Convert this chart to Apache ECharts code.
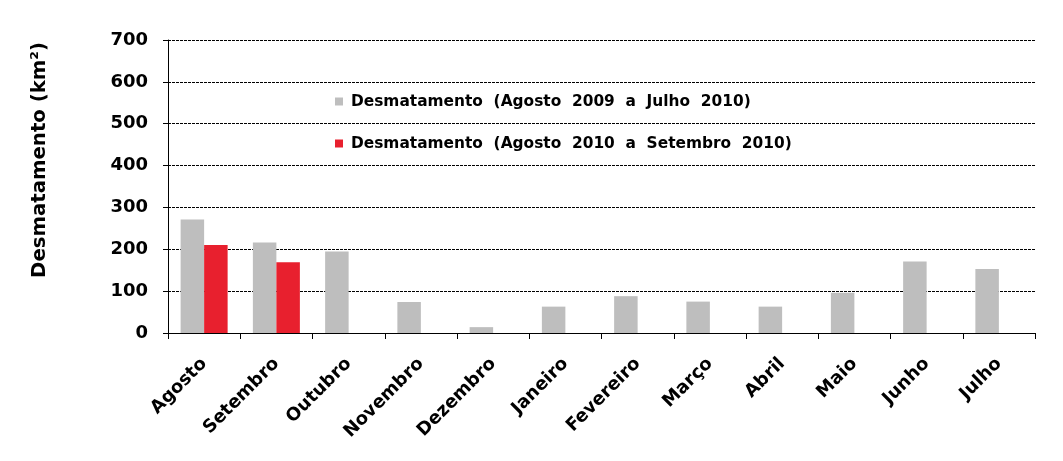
<!DOCTYPE html>
<html><head><meta charset="utf-8">
<script src="https://cdn.jsdelivr.net/npm/echarts@6/dist/echarts.min.js"></script>
<style>html,body{margin:0;padding:0;background:#fff}#c{width:1063px;height:461px}</style>
</head><body><div id="c"></div>
<script>
const months = ['Agosto','Setembro','Outubro','Novembro','Dezembro','Janeiro','Fevereiro','Março','Abril','Maio','Junho','Julho'];
const series2009 = [271, 216, 195, 74, 14, 63, 88, 75, 63, 96, 171, 153];
const series2010 = [210, 169, null, null, null, null, null, null, null, null, null, null];
const yTicks = [0, 100, 200, 300, 400, 500, 600, 700];
const name2009 = 'Desmatamento\u00a0\u00a0(Agosto\u00a0\u00a02009\u00a0\u00a0a\u00a0\u00a0Julho\u00a0\u00a02010)';
const name2010 = 'Desmatamento\u00a0\u00a0(Agosto\u00a0\u00a02010\u00a0\u00a0a\u00a0\u00a0Setembro\u00a0\u00a02010)';
const font = 'DejaVu Sans, Verdana, sans-serif';
const chart = echarts.init(document.getElementById('c'), null, {renderer: 'canvas'});
chart.setOption({
  animation: false,
  backgroundColor: '#fff',
  textStyle: {fontFamily: font},
  grid: {left: 168, right: 28, top: 40, bottom: 128, containLabel: false},
  legend: {
    orient: 'vertical', left: 330, top: 89, itemWidth: 8, itemHeight: 8, itemGap: 27,
    icon: 'rect',
    textStyle: {fontFamily: font, fontSize: 15.4, fontWeight: 'bold', color: '#000', padding: [0,0,0,3]},
    data: [name2009, name2010]
  },
  xAxis: {
    type: 'category', data: months,
    axisLine: {lineStyle: {color: '#000', width: 1}},
    axisTick: {show: true, length: 6, lineStyle: {color: '#000'}},
    axisLabel: {rotate: 45, interval: 0, margin: 28, fontFamily: font, fontSize: 18, fontWeight: 'bold', color: '#000'}
  },
  yAxis: {
    type: 'value', min: yTicks[0], max: yTicks[yTicks.length-1], interval: 100,
    axisLine: {show: true, lineStyle: {color: '#000', width: 1}},
    axisTick: {show: true, length: 5, lineStyle: {color: '#000'}},
    axisLabel: {margin: 20, fontFamily: font, fontSize: 18, fontWeight: 'bold', color: '#000'},
    splitLine: {show: true, lineStyle: {color: '#000', type: [3, 1], width: 1}}
  },
  graphic: [{
    type: 'text', x: 40, y: 160, rotation: Math.PI/2,
    style: {text: 'Desmatamento (km²)', fontFamily: font, fontSize: 19.7, fontWeight: 'bold', fill: '#000', align: 'center', verticalAlign: 'middle'}
  }],
  series: [
    {name: name2009, type: 'bar', data: series2009, barWidth: 23.5, barGap: '0%', itemStyle: {color: '#BEBEBE'}},
    {name: name2010, type: 'bar', data: series2010, barWidth: 23.5, barGap: '0%', itemStyle: {color: '#E8202E'}}
  ]
});
</script></body></html>
